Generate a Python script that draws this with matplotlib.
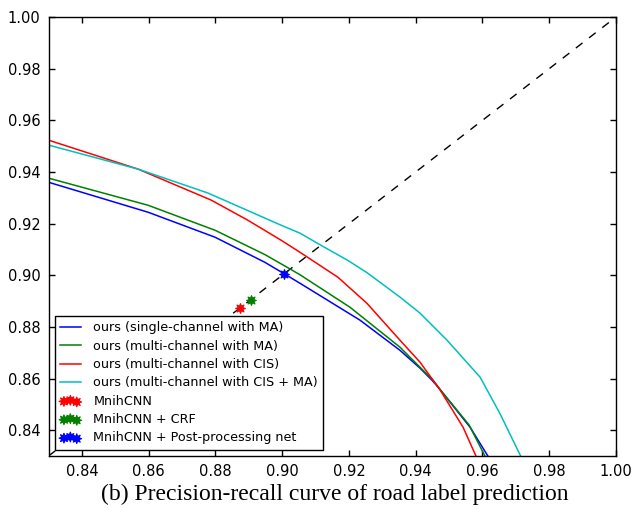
import numpy as np
import matplotlib
matplotlib.use('Agg')
import matplotlib.pyplot as plt

# recall / precision samples
single_ma_x = [0.830, 0.8598, 0.8799, 0.8948, 0.9008, 0.9053, 0.9233, 0.9353, 0.9413, 0.9449, 0.9470, 0.9563, 0.9617]
single_ma_y = [0.9360, 0.9244, 0.9147, 0.9050, 0.9004, 0.8969, 0.8826, 0.8709, 0.8640, 0.8593, 0.8562, 0.8411, 0.8298]

multi_ma_x = [0.830, 0.8598, 0.8799, 0.8948, 0.9017, 0.9053, 0.9203, 0.9353, 0.9452, 0.9470, 0.9560, 0.9608]
multi_ma_y = [0.9376, 0.9271, 0.9174, 0.9080, 0.9029, 0.9002, 0.8876, 0.8721, 0.8593, 0.8562, 0.8420, 0.8298]

multi_cis_x = [0.830, 0.8568, 0.8787, 0.8897, 0.8996, 0.9053, 0.9167, 0.9254, 0.9353, 0.9413, 0.9452, 0.9470, 0.9542, 0.9581]
multi_cis_y = [0.9523, 0.9411, 0.9291, 0.9213, 0.9136, 0.9089, 0.8992, 0.8891, 0.8748, 0.8663, 0.8593, 0.8562, 0.8411, 0.8298]

multi_cis_ma_x = [0.830, 0.8568, 0.8778, 0.8996, 0.9053, 0.9116, 0.9197, 0.9254, 0.9353, 0.9413, 0.9494, 0.9593, 0.9652, 0.9715]
multi_cis_ma_y = [0.9504, 0.9411, 0.9318, 0.9194, 0.9163, 0.9116, 0.9057, 0.9010, 0.8915, 0.8853, 0.8748, 0.8605, 0.8465, 0.8298]

# single operating points
mnih_pt = (0.8874, 0.8872)
mnih_crf_pt = (0.8907, 0.8903)
mnih_post_pt = (0.9005, 0.9005)

xticks = [0.84, 0.86, 0.88, 0.90, 0.92, 0.94, 0.96, 0.98, 1.00]
yticks = [0.84, 0.86, 0.88, 0.90, 0.92, 0.94, 0.96, 0.98, 1.00]

fig = plt.figure(figsize=(6.44, 5.08), dpi=100)
ax = fig.add_axes([0.0755, 0.1024, 0.881, 0.8641])

ax.plot([0.83, 1.0], [0.83, 1.0], 'k--', lw=1.0, dashes=(6, 6))
ax.plot(single_ma_x, single_ma_y, color='b', lw=1.1, label='ours (single-channel with MA)')
ax.plot(multi_ma_x, multi_ma_y, color='g', lw=1.1, label='ours (multi-channel with MA)')
ax.plot(multi_cis_x, multi_cis_y, color='r', lw=1.1, label='ours (multi-channel with CIS)')
ax.plot(multi_cis_ma_x, multi_cis_ma_y, color='c', lw=1.1, label='ours (multi-channel with CIS + MA)')

star = (8, 1, 0)
ax.scatter([mnih_pt[0]], [mnih_pt[1]], marker=star, s=50, color='r', lw=0.8,
           edgecolor='r', zorder=6, label='MnihCNN')
ax.scatter([mnih_crf_pt[0]], [mnih_crf_pt[1]], marker=star, s=50, color='g', lw=0.8,
           edgecolor='g', zorder=6, label='MnihCNN + CRF')
ax.scatter([mnih_post_pt[0]], [mnih_post_pt[1]], marker=star, s=50, color='b', lw=0.8,
           edgecolor='b', zorder=6, label='MnihCNN + Post-processing net')

ax.set_xlim(0.83, 1.0)
ax.set_ylim(0.83, 1.0)
ax.set_xticks(xticks)
ax.set_yticks(yticks)
ax.set_xticklabels(['%.2f' % t for t in xticks])
ax.set_yticklabels(['%.2f' % t for t in yticks])
ax.tick_params(direction='in', top=True, right=True, length=4, width=1,
               labelsize=10.5, pad=6)
for s in ax.spines.values():
    s.set_linewidth(1.0)

leg = ax.legend(loc='lower left', fontsize=9.2, scatterpoints=3,
                fancybox=False, edgecolor='k', framealpha=1,
                borderaxespad=0.5, handlelength=1.6, handletextpad=1.0,
                labelspacing=0.42)
leg.get_frame().set_linewidth(1.0)
leg.set_zorder(5)

fig.text(0.52, 0.006, '(b) Precision-recall curve of road label prediction',
         ha='center', va='bottom', family='Liberation Serif', fontsize=17)

plt.savefig('out.png', dpi=100)
